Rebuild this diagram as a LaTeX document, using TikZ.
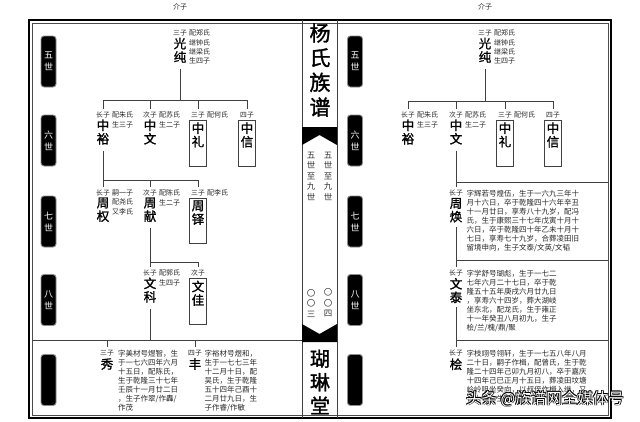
\documentclass[tikz,border=0pt]{standalone}
\usepackage{fontspec}
\setmainfont{Noto Sans CJK SC}[AutoFakeBold=1.4]
\usetikzlibrary{positioning}

\begin{document}
\begin{tikzpicture}[x=1pt, y=-1pt,
    line/.style={draw=black!75, line width=0.7pt},
    gen/.style={draw=black!45, line width=0.9pt, fill=black, rounded corners=3pt, minimum width=15pt, minimum height=51pt, inner sep=0pt, text=white, align=center, font=\fontsize{9}{12}\selectfont},
    rank/.style={inner sep=0pt, text=black!85, font=\fontsize{6.8}{9}\selectfont},
    note/.style={inner sep=0pt, align=left, text=black!85, font=\fontsize{7}{9.3}\selectfont},
    bio/.style={inner sep=0pt, align=left, text=black!85, font=\fontsize{7.5}{9}\selectfont},
    kin/.style={inner sep=0pt, align=center, font=\fontsize{12.5}{13.5}\selectfont\bfseries},
    kinbox/.style={kin, draw=black!75, line width=0.7pt, inner sep=2.5pt, minimum width=17pt, text depth=17pt},
    vtext/.style={inner sep=0pt, align=center, text=black!80, font=\fontsize{8.5}{10.5}\selectfont},
    wm/.style={inner sep=0pt, font=\fontsize{15.5}{17}\selectfont}
]
\useasboundingbox (0,0) rectangle (640,421);

% Frame
\draw[black, line width=2pt] (29,20) rectangle (611,418);
\draw[black!70, line width=0.5pt] (32,23) rectangle (608,415);
\draw[line] (302,20) -- (302,418);
\draw[line] (337,20) -- (337,418);

% Centre column
\node[inner sep=0pt, align=center, font=\fontsize{21}{24.7}\selectfont\bfseries] (title) at (320,70) {杨\\氏\\族\\谱};
\fill (302,127) -- (337,127) -- (337,145) -- (319.5,135) -- (302,145) -- cycle;
\node[vtext] (span-r) at (328,176) {五\\世\\至\\九\\世};
\node[vtext] (span-l) at (311,176) {五\\世\\至\\九\\世};
\node[vtext] (page-r) at (328,303) {〇\\〇\\四};
\node[vtext] (page-l) at (311,303) {〇\\〇\\三};
\fill (302,342) -- (337,342) -- (337,324) -- (319.5,334) -- (302,324) -- cycle;
\node[inner sep=0pt, align=center, font=\fontsize{20}{23.5}\selectfont\bfseries] (hall) at (320,382) {瑚\\琳\\堂};

% Generation tabs
\foreach \y/\ga/\gb [count=\i] in {61.5/五/世, 140.5/六/世, 221.5/七/世, 300/八/世, 380/{}/{}} {
  \node[gen] (genl-\i) at (48.5,\y) {\ga\\\gb};
  \node[gen] (genr-\i) at (355,\y) {\ga\\\gb};
}

% ---------- Left page ----------
\node[note] (jz-l) at (180,7) {介子};
\node[rank] (gc-l-rank) at (180,33) {三子};
\node[note, right=2pt of gc-l-rank.north east, anchor=north west] (gc-l-wife) {配郑氏\\继钟氏\\继梁氏\\生四子};
\node[kin, below=1.5pt of gc-l-rank] (gc-l) {光\\纯};
\coordinate (bar5-l) at (0,100);

% sixth generation
\node[rank] (zy-l-rank) at (103,115) {长子};
\node[note, right=2pt of zy-l-rank.north east, anchor=north west] (zy-l-wife) {配朱氏\\生三子};
\node[kin, below=1pt of zy-l-rank] (zy-l) {中\\裕};
\node[rank] (zw-l-rank) at (150,115) {次子};
\node[note, right=2pt of zw-l-rank.north east, anchor=north west] (zw-l-wife) {配苏氏\\生二子};
\node[kin, below=1pt of zw-l-rank] (zw-l) {中\\文};
\node[rank] (zl-l-rank) at (198,115) {三子};
\node[note, right=2pt of zl-l-rank.north east, anchor=north west] (zl-l-wife) {配何氏};
\node[kinbox, below=1.5pt of zl-l-rank] (zl-l) {中\\礼};
\node[rank] (zx-l-rank) at (247,115) {四子};
\node[kinbox, below=1.5pt of zx-l-rank] (zx-l) {中\\信};

\draw[line, shorten <=6pt] (gc-l.south) -- (gc-l.south |- bar5-l);
\draw[line, shorten <=3pt, shorten >=3pt] (zy-l-rank.north) -- (zy-l-rank.north |- bar5-l) -- (zx-l-rank.north |- bar5-l) -- (zx-l-rank.north);
\draw[line, shorten <=3pt] (zw-l-rank.north) -- (zw-l-rank.north |- bar5-l);
\draw[line, shorten <=3pt] (zl-l-rank.north) -- (zl-l-rank.north |- bar5-l);

% seventh generation
\coordinate (bar7-l) at (0,180);
\node[rank] (zq-l-rank) at (103,193) {长子};
\node[note, right=2pt of zq-l-rank.north east, anchor=north west] (zq-l-wife) {嗣一子\\配尧氏\\又李氏};
\node[kin, below=1pt of zq-l-rank] (zq-l) {周\\权};
\node[rank] (zs-l-rank) at (150,193) {次子};
\node[note, right=2pt of zs-l-rank.north east, anchor=north west] (zs-l-wife) {配陈氏\\生二子};
\node[kin, below=1pt of zs-l-rank] (zs-l) {周\\献};
\node[rank] (zd-l-rank) at (198,193) {三子};
\node[note, right=2pt of zd-l-rank.north east, anchor=north west] (zd-l-wife) {配李氏};
\node[kinbox, below=1.5pt of zd-l-rank] (zd-l) {周\\铎};

\draw[line, shorten <=6pt] (zy-l.south) -- (zy-l.south |- bar7-l);
\draw[line, shorten <=3pt, shorten >=3pt] (zq-l-rank.north) -- (zq-l-rank.north |- bar7-l) -- (zd-l-rank.north |- bar7-l) -- (zd-l-rank.north);
\draw[line, shorten <=3pt] (zs-l-rank.north) -- (zs-l-rank.north |- bar7-l);

% eighth generation
\coordinate (bar8-l) at (0,262);
\node[rank] (wk-l-rank) at (150,273) {长子};
\node[note, right=2pt of wk-l-rank.north east, anchor=north west] (wk-l-wife) {配郭氏\\生四子};
\node[kin, below=1pt of wk-l-rank] (wk-l) {文\\科};
\node[rank] (wj-l-rank) at (198,273) {次子};
\node[kinbox, below=1.5pt of wj-l-rank] (wj-l) {文\\佳};

\draw[line, shorten <=6pt] (zs-l.south) -- (zs-l.south |- bar8-l);
\draw[line, shorten <=3pt, shorten >=3pt] (wk-l-rank.north) -- (wk-l-rank.north |- bar8-l) -- (wj-l-rank.north |- bar8-l) -- (wj-l-rank.north);

% ninth generation
\coordinate (sep9-l) at (32,340);
\coordinate (sep9-l-end) at (302,340);
\draw[line] (sep9-l) -- (sep9-l-end);
\node[rank] (xiu-l-rank) at (107,353) {三子};
\node[kin, below=2pt of xiu-l-rank] (xiu-l) {秀};
\node[bio, right=4pt of xiu-l-rank.north east, anchor=north west] (xiu-l-bio) {字美材号煜智，生\\于一七六四年六月\\十五日，配陈氏，\\生于乾隆三十七年\\壬辰十一月廿二日\\，生子作翠/作轟/\\作茂};
\node[rank] (feng-l-rank) at (195,353) {四子};
\node[kin, below=2pt of feng-l-rank] (feng-l) {丰};
\node[bio, right=2.5pt of feng-l-rank.north east, anchor=north west] (feng-l-bio) {字裕材号煜和，\\生于一七七三年\\十二月十日，配\\吴氏，生于乾隆\\五十四年己酉十\\二月廿九日，生\\子作睿/作敏};

\draw[line, shorten <=6pt] (wk-l.south) -- (wk-l.south |- sep9-l);
\draw[line, shorten <=3pt] (xiu-l-rank.north) -- (xiu-l-rank.north |- sep9-l);
\draw[line, shorten <=3pt] (feng-l-rank.north) -- (feng-l-rank.north |- sep9-l);

% ---------- Right page ----------
\node[note] (jz-r) at (485,7) {介子};
\node[rank] (gc-r-rank) at (485,33) {三子};
\node[note, right=2pt of gc-r-rank.north east, anchor=north west] (gc-r-wife) {配郑氏\\继钟氏\\继梁氏\\生四子};
\node[kin, below=1.5pt of gc-r-rank] (gc-r) {光\\纯};
\coordinate (bar5-r) at (0,101);

\node[rank] (zy-r-rank) at (408,115) {长子};
\node[note, right=2pt of zy-r-rank.north east, anchor=north west] (zy-r-wife) {配朱氏\\生三子};
\node[kin, below=1pt of zy-r-rank] (zy-r) {中\\裕};
\node[rank] (zw-r-rank) at (456,115) {次子};
\node[note, right=2pt of zw-r-rank.north east, anchor=north west] (zw-r-wife) {配苏氏\\生二子};
\node[kin, below=1pt of zw-r-rank] (zw-r) {中\\文};
\node[rank] (zl-r-rank) at (505,115) {三子};
\node[note, right=2pt of zl-r-rank.north east, anchor=north west] (zl-r-wife) {配何氏};
\node[kinbox, below=1.5pt of zl-r-rank] (zl-r) {中\\礼};
\node[rank] (zx-r-rank) at (553,115) {四子};
\node[kinbox, below=1.5pt of zx-r-rank] (zx-r) {中\\信};

\draw[line, shorten <=6pt] (gc-r.south) -- (gc-r.south |- bar5-r);
\draw[line, shorten <=3pt, shorten >=3pt] (zy-r-rank.north) -- (zy-r-rank.north |- bar5-r) -- (zx-r-rank.north |- bar5-r) -- (zx-r-rank.north);
\draw[line, shorten <=3pt] (zw-r-rank.north) -- (zw-r-rank.north |- bar5-r);
\draw[line, shorten <=3pt] (zl-r-rank.north) -- (zl-r-rank.north |- bar5-r);

% single line of descent
\coordinate (bar7-r) at (608,182);
\coordinate (bar8-r) at (608,260);
\coordinate (bar9-r) at (608,340);

\node[rank] (zh-r-rank) at (456,193) {长子};
\node[kin, below=1.5pt of zh-r-rank] (zh-r) {周\\焕};
\node[bio, right=3.5pt of zh-r-rank.north east, anchor=north west] (zh-r-bio) {字辉若号煌伍，生于一六九三年十\\月十六日，卒于乾隆四十六年辛丑\\十一月廿日，享寿八十九岁，配冯\\氏，生于康熙三十七年戊寅十月十\\六日，卒于乾隆四十年乙未十月十\\七日，享寿七十九岁，合葬凌田旧\\留境申向，生子文泰/文英/文韬};

\node[rank] (wt-r-rank) at (456,273) {长子};
\node[kin, below=1.5pt of wt-r-rank] (wt-r) {文\\泰};
\node[bio, right=3.5pt of wt-r-rank.north east, anchor=north west] (wt-r-bio) {字学舒号瑚彪，生于一七二\\七年六月二十七日，卒于乾\\隆五十五年庚戌六月廿九日\\，享寿六十四岁，葬大湖岐\\坐东北，配龙氏，生于雍正\\十一年癸丑八月初九，生子\\桧/兰/槐/鼎/聚};

\node[rank] (gui-r-rank) at (456,353) {长子};
\node[kin, below=2pt of gui-r-rank] (gui-r) {桧};
\node[bio, right=3.5pt of gui-r-rank.north east, anchor=north west] (gui-r-bio) {字枝翊号翎轩，生于一七五八年八月\\二十日，嗣子作楫，配曾氏，生于乾\\隆二十四年己卯九月初八，卒于嘉庆\\十四年己巳正月十五日，葬凌田坟塘\\岭岭咀坐癸向，以叔侄作楫入继，又\\合大坟，生子作楫};

\draw[line, shorten <=6pt] (zw-r.south) -- (zw-r.south |- bar7-r) -- (bar7-r);
\draw[line, shorten <=3pt] (zh-r-rank.north) -- (zh-r-rank.north |- bar7-r);
\draw[line, shorten <=4pt] (zh-r.south) -- (zh-r.south |- bar8-r) -- (bar8-r);
\draw[line, shorten <=3pt] (wt-r-rank.north) -- (wt-r-rank.north |- bar8-r);
\draw[line, shorten <=4pt] (wt-r.south) -- (wt-r.south |- bar9-r) -- (bar9-r);
\draw[line, shorten <=3pt] (gui-r-rank.north) -- (gui-r-rank.north |- bar9-r);

% watermark
\coordinate (wm-at) at (545,399);
\foreach \dx/\dy [count=\k] in {-0.7/-0.7, 0.7/0.7, -0.7/0.7, 0.7/-0.7}
  \node[wm, text=black] (wm-shadow-\k) at ([xshift=\dx pt, yshift=\dy pt]wm-at) {头条 @族谱网全媒体号};
\node[wm, text=white] (watermark) at (wm-at) {头条 @族谱网全媒体号};

\end{tikzpicture}
\end{document}
